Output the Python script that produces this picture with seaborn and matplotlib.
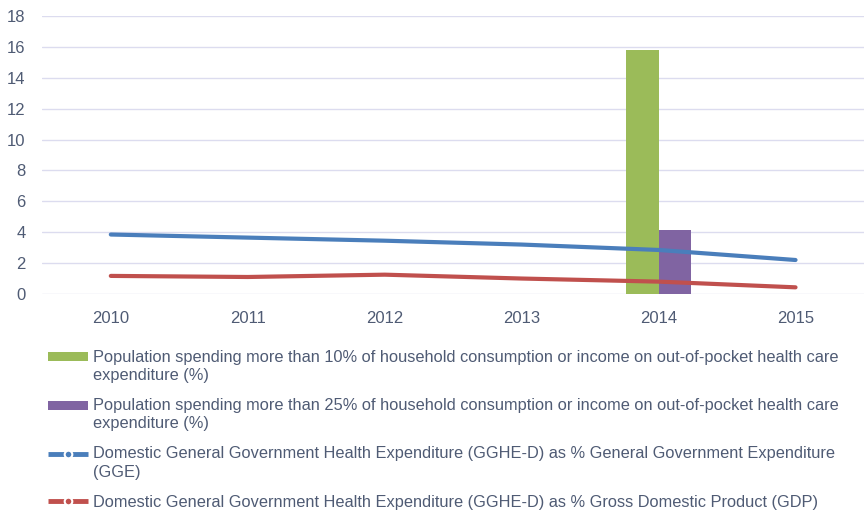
import matplotlib
matplotlib.use("Agg")
import matplotlib.pyplot as plt
from matplotlib.patches import Patch, Rectangle
from matplotlib.lines import Line2D
from matplotlib.legend_handler import HandlerBase
import numpy as np
import pandas as pd
import seaborn as sns

years = ["2010", "2011", "2012", "2013", "2014", "2015"]
pop_over_10 = [np.nan, np.nan, np.nan, np.nan, 15.8, np.nan]
pop_over_25 = [np.nan, np.nan, np.nan, np.nan, 4.15, np.nan]
gghe_gge = [3.85, 3.65, 3.45, 3.2, 2.85, 2.2]
gghe_gdp = [1.17, 1.1, 1.25, 1.0, 0.8, 0.43]

labels = [
    "Population spending more than 10% of household consumption or income on out-of-pocket health care\nexpenditure (%)",
    "Population spending more than 25% of household consumption or income on out-of-pocket health care\nexpenditure (%)",
    "Domestic General Government Health Expenditure (GGHE-D) as % General Government Expenditure\n(GGE)",
    "Domestic General Government Health Expenditure (GGHE-D) as % Gross Domestic Product (GDP)",
]
colors = ["#9bbb59", "#8064a2", "#4a7ebb", "#c0504d"]
text_color = "#4f5b74"


class FirstLineHandler(HandlerBase):
    """Legend key placed level with the first line of a wrapped label."""

    def __init__(self, shift=0.0, **kw):
        super().__init__(**kw)
        self.shift = shift

    def create_artists(self, legend, orig_handle, xdescent, ydescent,
                       width, height, fontsize, trans):
        if isinstance(orig_handle, Patch):
            r = Rectangle((-xdescent, -ydescent + self.shift), width, height,
                          facecolor=orig_handle.get_facecolor(), linewidth=0,
                          transform=trans)
            return [r]
        y = (height - ydescent) / 2 + self.shift
        line = Line2D([-xdescent, width - xdescent], [y, y],
                      color=orig_handle.get_color(), lw=orig_handle.get_linewidth(),
                      solid_capstyle="butt", transform=trans)
        dot = Line2D([(width - 2 * xdescent) / 2], [y], linestyle="none",
                     marker="o", markersize=orig_handle.get_markersize(),
                     markerfacecolor=orig_handle.get_color(),
                     markeredgecolor="white",
                     markeredgewidth=orig_handle.get_markeredgewidth(),
                     transform=trans)
        return [line, dot]


sns.set_theme(style="white")
plt.rcParams["font.family"] = ["Liberation Sans", "DejaVu Sans"]

fig = plt.figure(figsize=(8.64, 5.11), dpi=100)
ax = fig.add_axes([0.049, 0.4247, 0.951, 0.5440])

bars = pd.DataFrame({
    "year": years * 2,
    "value": pop_over_10 + pop_over_25,
    "series": [labels[0]] * len(years) + [labels[1]] * len(years),
})
sns.barplot(data=bars, x="year", y="value", hue="series", order=years,
            palette=colors[:2], width=0.48, saturation=1, linewidth=0,
            legend=False, ax=ax)

xpos = np.arange(len(years))
sns.lineplot(x=xpos, y=gghe_gge, color=colors[2], linewidth=3, ax=ax, legend=False)
sns.lineplot(x=xpos, y=gghe_gdp, color=colors[3], linewidth=3, ax=ax, legend=False)

ax.set_xlim(-0.5, len(years) - 0.5)
ax.set_ylim(0, 18)
ax.set_yticks(range(0, 19, 2))
ax.yaxis.grid(True, color="#dcdcef", linewidth=1)
ax.set_axisbelow(True)
for s in ax.spines.values():
    s.set_visible(False)
ax.set_xlabel("")
ax.set_ylabel("")
ax.tick_params(axis="both", length=0, labelsize=12, colors=text_color)
ax.tick_params(axis="x", pad=12)
ax.tick_params(axis="y", pad=12)

handles = [
    Patch(facecolor=colors[0]),
    Patch(facecolor=colors[1]),
    Line2D([], [], color=colors[2], lw=3.5, marker="o", markersize=5.5,
           markeredgewidth=1.5),
    Line2D([], [], color=colors[3], lw=3.5, marker="o", markersize=5.5,
           markeredgewidth=1.5),
]
shift_pt = 6.9
handler_map = {h: FirstLineHandler(shift_pt if "\n" in lab else 0.0)
               for h, lab in zip(handles, labels)}
leg = fig.legend(handles, labels, loc="upper left", bbox_to_anchor=(0.055, 0.316),
                 frameon=False, fontsize=11.8, labelcolor=text_color,
                 handlelength=2.45, handleheight=0.45, handletextpad=0.3,
                 labelspacing=0.9, borderaxespad=0, borderpad=0,
                 handler_map=handler_map)
for t in leg.get_texts():
    t.set_linespacing(1.3)

fig.savefig("out.png", dpi=100)
